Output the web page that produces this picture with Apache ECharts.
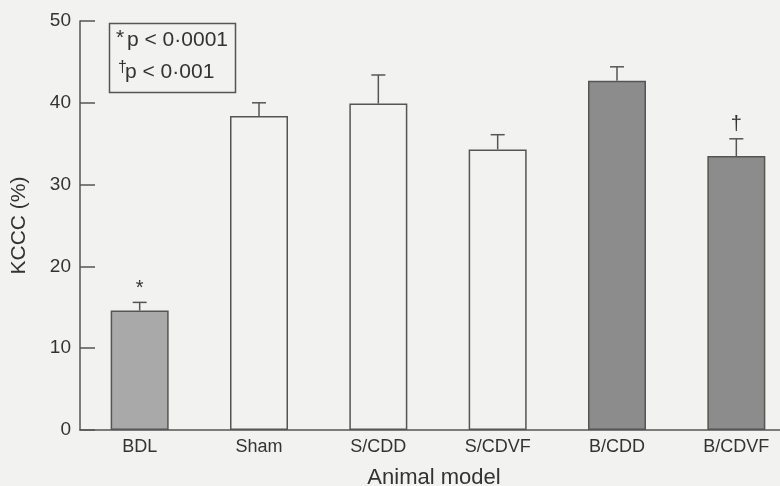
<!DOCTYPE html>
<html>
<head>
<meta charset="utf-8">
<script src="https://cdn.jsdelivr.net/npm/echarts@6/dist/echarts.min.js"></script>
<style>
html,body{margin:0;padding:0;background:#f2f2f0;}
#c{width:780px;height:486px;}
</style>
</head>
<body>
<div id="c"></div>
<script>
const categories = ['BDL', 'Sham', 'S/CDD', 'S/CDVF', 'B/CDD', 'B/CDVF'];
const means = [14.6, 38.4, 39.9, 34.3, 42.7, 33.5];
const errors = [1.0, 1.6, 3.5, 1.8, 1.7, 2.1];
const markers = ['*', '', '', '', '', '†'];
const fills = ['#a9a9a9', '#f2f2f0', '#f2f2f0', '#f2f2f0', '#8c8c8c', '#8c8c8c'];
const yTicks = [0, 10, 20, 30, 40, 50];
const legendSymbols = ['*', '†'];
const legendLines = ['p < 0·0001', 'p < 0·001'];

const chart = echarts.init(document.getElementById('c'));
const axisColor = '#555';
const textColor = '#333';
const font = 'Liberation Sans, Arial, sans-serif';

chart.setOption({
  backgroundColor: '#f2f2f0',
  animation: false,
  grid: { left: 80, right: -16, top: 21, bottom: 56, containLabel: false, outerBoundsMode: 'none' },
  xAxis: {
    type: 'category',
    data: categories,
    boundaryGap: true,
    axisLine: { lineStyle: { color: axisColor, width: 1.5 } },
    axisTick: { show: false },
    axisLabel: { color: textColor, fontSize: 18, fontFamily: font, margin: 8 },
    name: 'Animal model',
    nameLocation: 'middle',
    nameGap: 37,
    nameTextStyle: { color: textColor, fontSize: 22, fontFamily: font, padding: [0, 8, 0, 0] }
  },
  yAxis: {
    type: 'value',
    min: yTicks[0],
    max: yTicks[yTicks.length - 1],
    interval: 10,
    splitLine: { show: false },
    axisLine: { show: true, lineStyle: { color: axisColor, width: 1.5 } },
    axisTick: { show: true, inside: true, length: 15, lineStyle: { color: axisColor, width: 1.5 } },
    axisLabel: { color: textColor, fontSize: 19, fontFamily: font, margin: 9 },
    name: 'KCCC (%)',
    nameLocation: 'middle',
    nameGap: 50,
    nameTextStyle: { color: textColor, fontSize: 21, fontFamily: font }
  },
  series: [
    {
      type: 'bar',
      barWidth: 58,
      data: means.map((v, i) => ({
        value: v,
        itemStyle: { color: fills[i], borderColor: axisColor, borderWidth: 1.5 }
      })),
      z: 2
    },
    {
      type: 'custom',
      z: 3,
      data: means.map((v, i) => [i, v, v + errors[i]]),
      renderItem: function (params, api) {
        const top = api.coord([api.value(0), api.value(1)]);
        const hi = api.coord([api.value(0), api.value(2)]);
        const cap = 7;
        const children = [
          { type: 'line', shape: { x1: top[0], y1: top[1], x2: hi[0], y2: hi[1] }, style: { stroke: axisColor, lineWidth: 1.5 } },
          { type: 'line', shape: { x1: hi[0] - cap, y1: hi[1], x2: hi[0] + cap, y2: hi[1] }, style: { stroke: axisColor, lineWidth: 1.5 } }
        ];
        const m = markers[params.dataIndex];
        if (m) {
          children.push({
            type: 'text',
            style: { text: m, x: hi[0], y: hi[1] - 4, textAlign: 'center', textVerticalAlign: 'bottom', fill: textColor, fontSize: 20, fontFamily: font }
          });
        }
        return { type: 'group', children: children };
      }
    }
  ],
  graphic: [
    {
      type: 'rect', left: 107, top: 21,
      shape: { width: 126, height: 69 },
      style: { fill: 'none', stroke: axisColor, lineWidth: 1.5 }
    },
    {
      type: 'text', left: 116, top: 28,
      style: { text: legendSymbols[0], fill: textColor, fontSize: 21, fontFamily: font }
    },
    {
      type: 'text', left: 127, top: 30,
      style: { text: legendLines[0], fill: textColor, fontSize: 21, fontFamily: font }
    },
    {
      type: 'text', left: 118, top: 60,
      style: { text: legendSymbols[1], fill: textColor, fontSize: 16, fontFamily: font }
    },
    {
      type: 'text', left: 125, top: 62,
      style: { text: legendLines[1], fill: textColor, fontSize: 21, fontFamily: font }
    }
  ]
});
</script>
</body>
</html>
